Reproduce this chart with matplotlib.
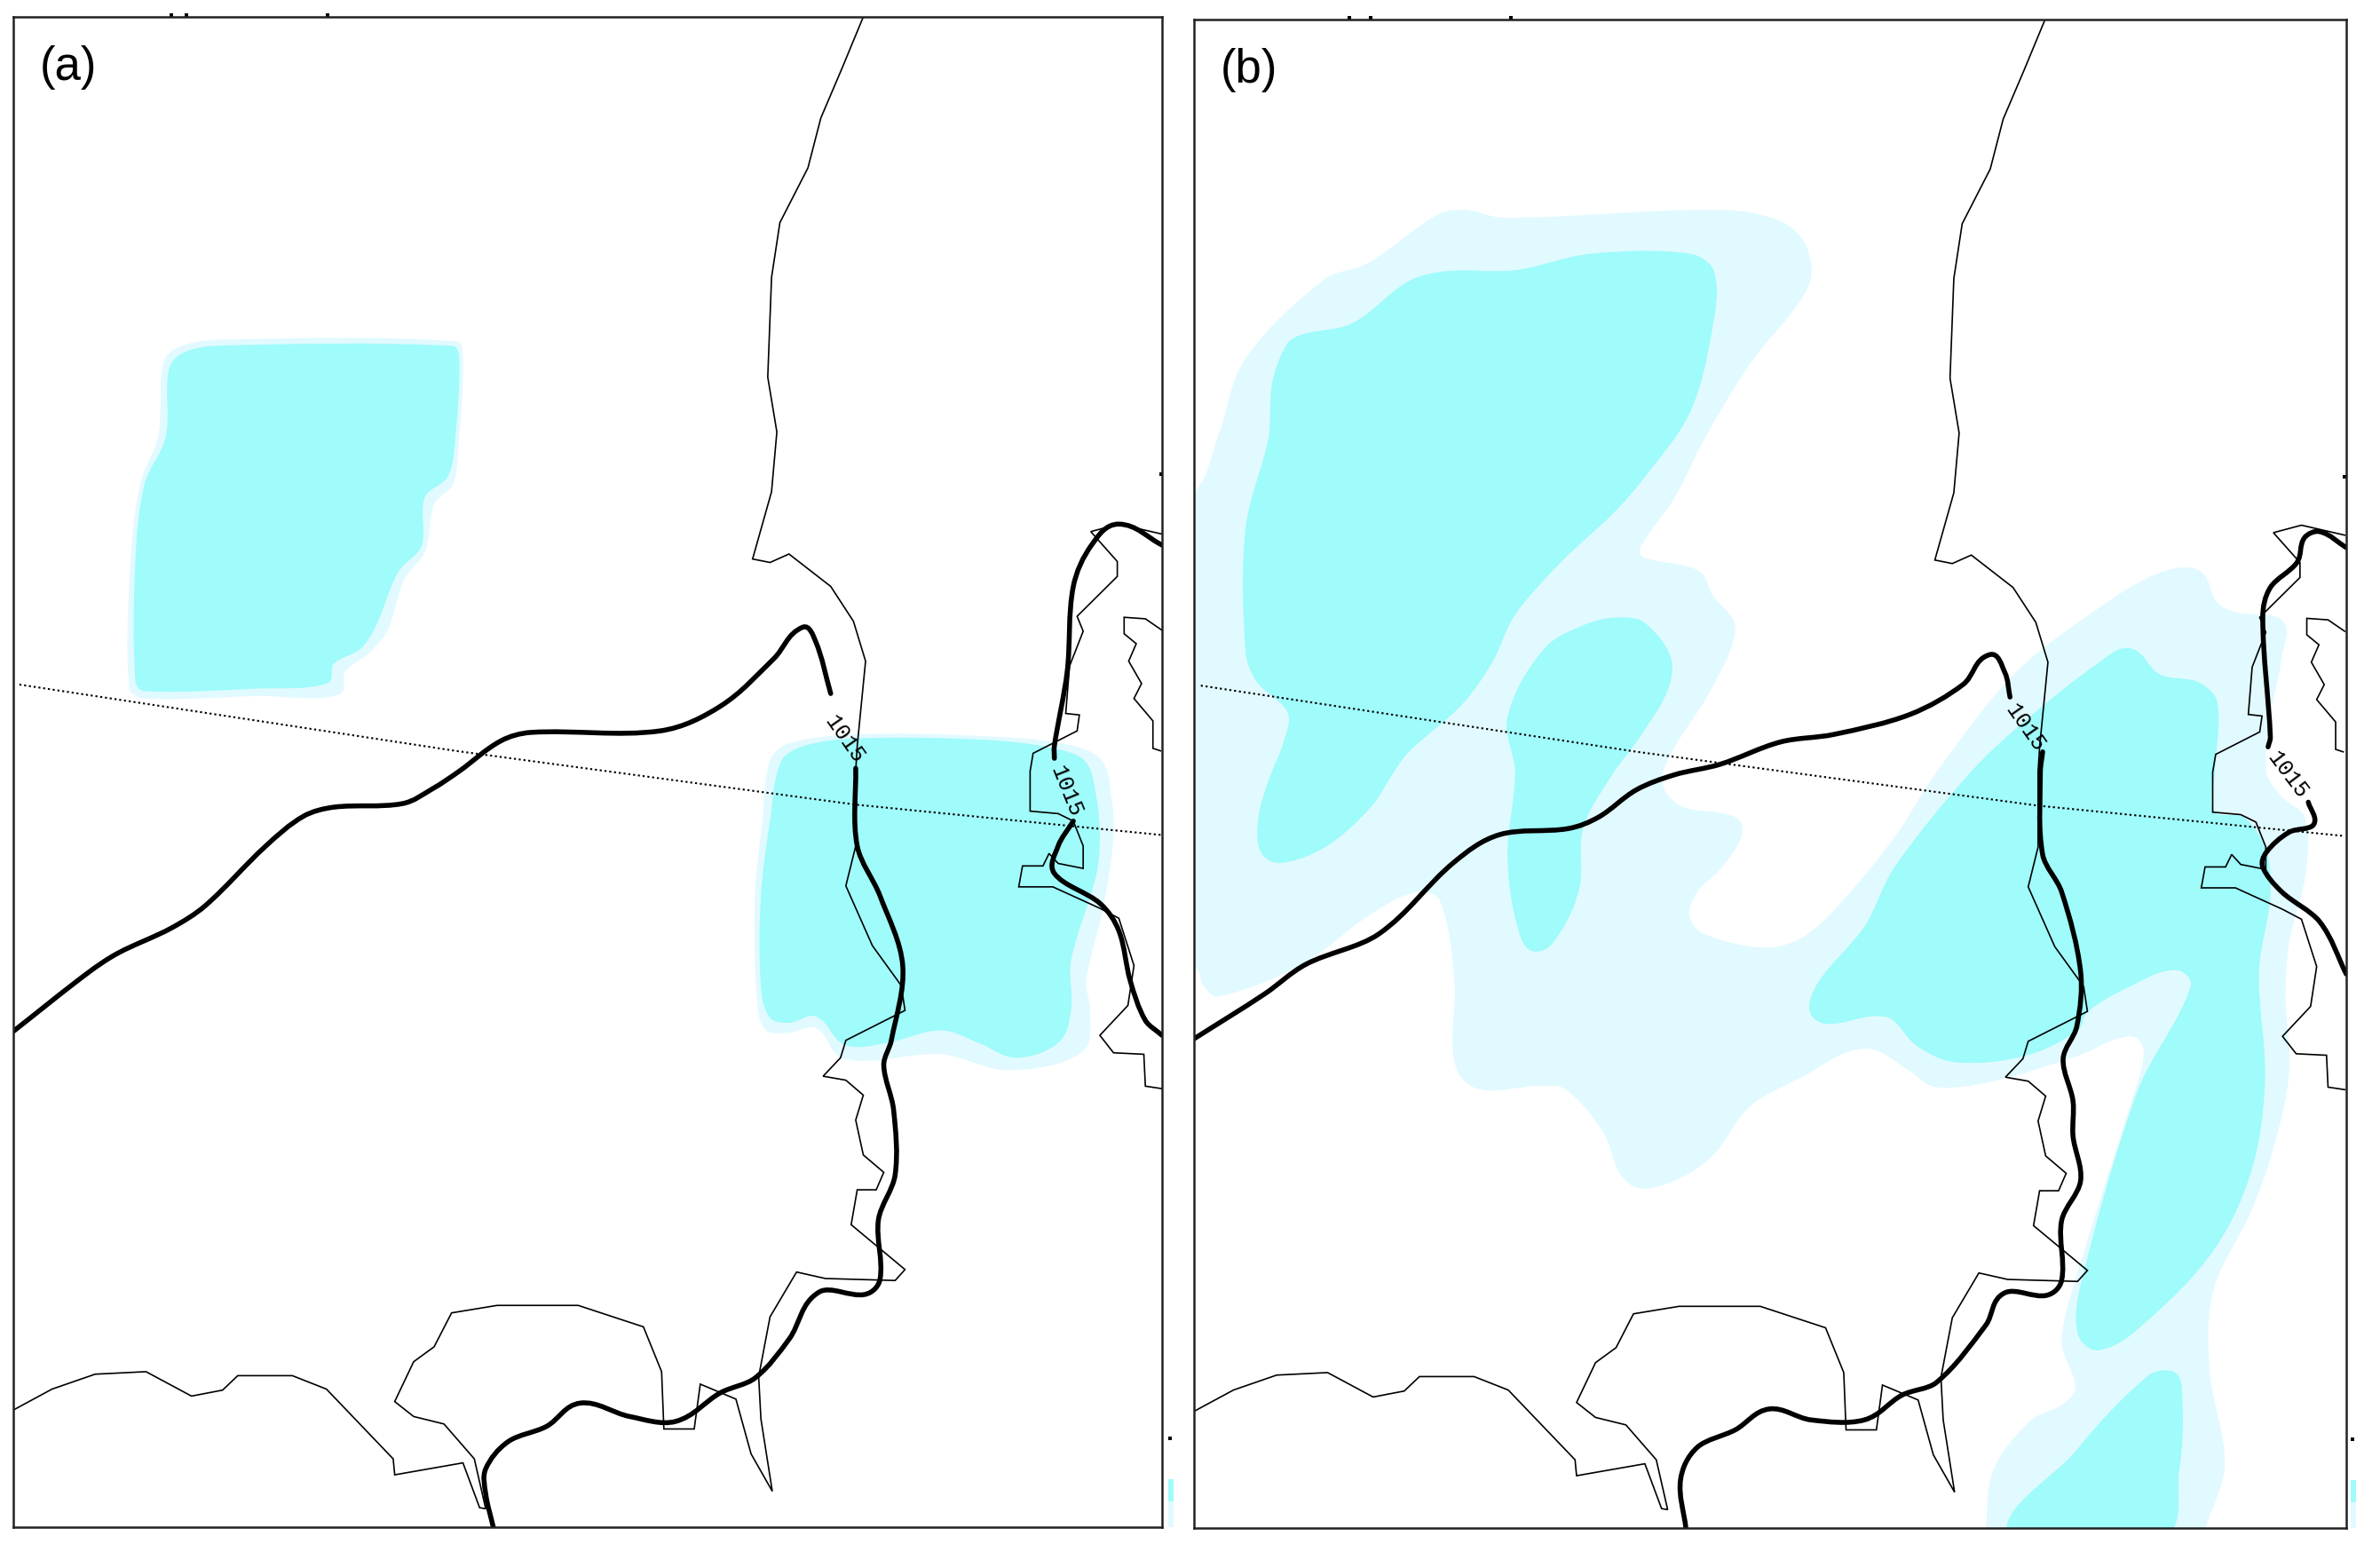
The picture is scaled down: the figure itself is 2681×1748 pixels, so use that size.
import numpy as np
import matplotlib
matplotlib.use('Agg')
import matplotlib.pyplot as plt
from matplotlib.path import Path
from matplotlib.patches import PathPatch

DARK = '#A0FBFB'
LIGHT = '#E1FAFF'

# map outlines (map units, y runs downward)
coast = np.array([(1138,37),(1110,140),(1082,240),(1065,340),(1028,450),(1017,560),(1012,760),(1024,870),(1017,990),(992,1125),
    (1015,1132),(1040,1115),(1095,1180),(1125,1250),(1141,1330),(1130,1500),(1128,1551),(1128,1701),(1115,1781),
    (1150,1901),(1188,1981),(1193,2031),(1115,2091),(1108,2126),(1085,2163),(1115,2171),(1138,2201),(1128,2251),
    (1138,2321),(1165,2356),(1155,2391),(1130,2391),(1122,2461),(1193,2551),(1180,2573),(1088,2569),(1050,2556),
    (1015,2646),(1000,2766),(1003,2851),(1018,2996),(990,2921),(970,2811),(923,2781),(915,2871),(875,2871),
    (872,2756),(848,2666),(762,2623),(655,2623),(595,2638),(572,2706),(545,2736),(520,2816),(545,2846),(585,2861),
    (625,2931),(640,3031),(632,3029),(610,2939),(520,2963),(518,2931),(430,2791),(385,2764),(313,2764),(293,2793),
    (252,2805),(192,2756),(125,2761),(68,2791),(17,2833)])
island = np.array([(1532,1075),(1475,1055),(1438,1070),(1473,1130),(1473,1160),(1420,1240),(1428,1270),(1410,1340),
    (1405,1435),(1423,1438),(1420,1470),(1362,1515),(1358,1551),(1358,1631),(1395,1636),(1415,1651),(1428,1701),
    (1428,1746),(1395,1736),(1383,1716),(1375,1741),(1348,1741),(1343,1783),(1388,1783),(1450,1826),(1475,1846),
    (1495,1941),(1487,2021),(1450,2081),(1468,2116),(1508,2119),(1510,2183),(1532,2188)])
inland = np.array([(1532,1268),(1510,1245),(1482,1242),(1482,1275),(1498,1295),(1488,1330),(1505,1375),(1495,1405),
    (1520,1450),(1520,1505),(1530,1510)])
parallel = np.array([(25,1377),(600,1510),(1128,1618),(1532,1679)])

# panel (a) shading
a_blob1_light = np.array([(285,685),(600,688),(610,720),(605,880),(597,975),(572,1015),(560,1110),(533,1165),(510,1270),
    (485,1315),(455,1350),(445,1398),(340,1400),(190,1405),(170,1385),(172,1120),(185,970),(208,880),(215,730),(235,700)])
a_blob1_dark = np.array([(285,697),(595,697),(605,720),(600,880),(590,960),(560,1000),(555,1100),(525,1150),(495,1260),
    (475,1305),(440,1335),(430,1375),(340,1385),(190,1390),(178,1370),(178,1130),(190,975),(218,880),(222,745),(240,712)])
a_blob2_light = np.array([(1015,1530),(1040,1495),(1130,1477),(1290,1480),(1400,1495),(1450,1525),(1465,1600),(1468,1680),
    (1455,1821),(1432,1971),(1437,2031),(1425,2116),(1330,2151),(1240,2119),(1115,2129),(1075,2066),(1040,2076),
    (1010,2071),(998,2011),(995,1801),(1005,1651)])
a_blob2_dark = np.array([(1030,1530),(1060,1500),(1130,1485),(1300,1488),(1390,1505),(1430,1530),(1445,1600),(1450,1680),
    (1445,1761),(1412,1931),(1412,2031),(1395,2096),(1340,2126),(1290,2096),(1240,2071),(1170,2096),(1115,2101),
    (1075,2043),(1040,2056),(1015,2046),(1003,1981),(1003,1801),(1015,1651)])

# panel (a) 1015 isobar pieces
a_iso = [
    np.array([(17,2073),(115,1956),(155,1916),(225,1866),(270,1821),(350,1701),(400,1641),(440,1623),(530,1616),(570,1586),
        (605,1551),(660,1490),(700,1473),(870,1470),(950,1420),(1020,1325),(1058,1262),(1075,1290),(1095,1395)]),
    np.array([(1128,1545),(1130,1701),(1160,1801),(1190,1941),(1175,2091),(1165,2141),(1178,2231),(1180,2361),(1158,2451),
        (1160,2571),(1140,2601),(1080,2596),(1040,2691),(995,2769),(950,2798),(890,2856),(830,2846),(765,2819),(720,2866),
        (670,2896),(640,2951),(640,3001),(650,3068)]),
    np.array([(1532,1097),(1475,1055),(1440,1095),(1415,1180),(1407,1350),(1390,1500),(1390,1525)]),
    np.array([(1415,1651),(1395,1701),(1390,1756),(1450,1816),(1475,1871),(1490,1971),(1510,2051),(1532,2081)]),
]

# panel (b) shading
b_light = np.array([(-30,990),(7,990),(40,870),(75,720),(180,560),(235,530),(330,430),(365,422),(415,438),(700,422),(780,445),
    (815,500),(815,580),(740,730),(680,880),(640,1000),(595,1100),(600,1120),(670,1145),(690,1195),(720,1260),(690,1380),
    (625,1551),(645,1616),(720,1641),(728,1681),(700,1746),(670,1791),(660,1841),(680,1876),(760,1903),(810,1881),
    (860,1811),(930,1681),(985,1551),(1090,1350),(1200,1220),(1280,1150),(1330,1145),(1355,1210),(1380,1230),(1440,1245),
    (1440,1320),(1425,1440),(1420,1551),(1440,1600),(1470,1640),(1472,1750),(1450,1891),(1445,2001),(1450,2151),(1430,2301),
    (1400,2431),(1350,2591),(1345,2751),(1365,2941),(1340,3068),(1335,3110),(1045,3110),(1050,3068),(1060,2951),(1110,2851),
    (1150,2821),(1168,2786),(1150,2691),(1180,2511),(1240,2221),(1258,2111),(1240,2081),(1170,2121),(1060,2171),(985,2183),
    (950,2151),(890,2106),(810,2161),(740,2221),(690,2321),(640,2371),(595,2386),(570,2361),(545,2271),(495,2186),(460,2181),
    (380,2186),(350,2131),(350,1971),(330,1806),(300,1791),(235,1841),(150,1936),(40,2001),(20,1981),(7,1941),(-30,1941)])
b_dark1 = np.array([(340,545),(430,543),(530,510),(660,510),(692,545),(690,660),(660,830),(600,960),(560,1030),(490,1130),
    (430,1235),(400,1330),(360,1415),(290,1510),(270,1551),(240,1621),(180,1701),(120,1733),(95,1711),(92,1641),(105,1568),
    (125,1490),(130,1430),(90,1370),(75,1310),(75,1060),(105,880),(110,770),(130,690),(150,672),(215,650),(290,565)])
b_dark2 = np.array([(570,1240),(600,1250),(635,1320),(630,1390),(590,1490),(560,1551),(520,1661),(515,1781),(490,1871),
    (458,1911),(435,1871),(420,1721),(430,1551),(420,1440),(470,1300),(530,1250)])
b_dark3 = np.array([(1240,1302),(1280,1355),(1330,1370),(1355,1410),(1352,1551),(1352,1631),(1390,1641),(1420,1711),
    (1425,1801),(1410,1951),(1418,2171),(1400,2351),(1350,2511),(1260,2656),(1200,2711),(1172,2681),(1175,2581),(1250,2191),
    (1320,1981),(1300,1948),(1240,1981),(1185,2031),(1170,2071),(1100,2121),(1010,2133),(960,2101),(925,2046),(900,2041),
    (840,2056),(818,2031),(830,1971),(890,1861),(930,1741),(1030,1551),(1100,1450),(1200,1330)])
b_dark4 = np.array([(1295,2753),(1308,2781),(1305,2951),(1275,3100),(1085,3100),(1170,2911),(1265,2761)])

# panel (b) 1015 isobar pieces
b_iso = [
    np.array([(7,2086),(100,1996),(155,1936),(250,1876),(350,1731),(410,1676),(500,1664),(540,1641),(590,1586),(640,1556),
        (700,1535),(780,1490),(850,1475),(950,1435),(1020,1375),(1055,1315),(1075,1350),(1082,1400)]),
    np.array([(1125,1510),(1122,1551),(1125,1716),(1150,1791),(1175,1951),(1170,2061),(1152,2126),(1165,2211),(1165,2281),
        (1175,2371),(1150,2451),(1150,2571),(1130,2601),(1075,2596),(1050,2661),(985,2776),(940,2801),(890,2851),(820,2851),
        (765,2829),(720,2871),(670,2906),(648,2971),(655,3068)]),
    np.array([(1525,1100),(1490,1068),(1470,1080),(1460,1130),(1425,1180),(1415,1240),(1425,1480),(1422,1500)]),
    np.array([(1475,1611),(1482,1656),(1450,1671),(1420,1711),(1415,1741),(1440,1791),(1490,1851),(1525,1956)]),
]

# isobar labels: x, y, rotation
a_labels = [(1113, 1485, -55), (1406, 1590, -68)]
b_labels = [(1102, 1460, -55), (1448, 1555, -53)]

# stray marks left round the frame
a_specks = np.array([(225,34),(245,34),(432,34),(1531,955),(1542,2889)])
b_specks = np.array([(212,37),(240,37),(425,37),(1523,957),(1533,2889)])


def smooth_path(pts, closed=False):
    # bezier through the read points, handles cut to the length of each segment so long sides don't overshoot
    p = np.vstack([pts[-1], pts, pts[:2]]) if closed else np.vstack([pts[0], pts, pts[-1]])
    verts = [p[1]]
    codes = [Path.MOVETO]
    for i in range(1, len(p) - 2):
        seg = np.linalg.norm(p[i+1] - p[i])
        t0 = p[i+1] - p[i-1]
        t1 = p[i+2] - p[i]
        t0 = t0 / max(np.linalg.norm(t0), 1e-6)
        t1 = t1 / max(np.linalg.norm(t1), 1e-6)
        verts += [p[i] + t0 * seg / 3, p[i+1] - t1 * seg / 3, p[i+1]]
        codes += [Path.CURVE4] * 3
    return Path(np.array(verts), codes)


def fill(ax, pts, color):
    ax.add_patch(PathPatch(smooth_path(pts, closed=True), fc=color, ec='none', zorder=1))


def draw_map(ax, dx):
    for line in [coast, island, inland]:
        ax.plot(line[:, 0] - dx, line[:, 1], color='black', lw=1.2, zorder=3, solid_joinstyle='miter')
    ax.plot(parallel[:, 0] - dx, parallel[:, 1], color='black', lw=1.5, ls=(0, (1.1, 1.5)), zorder=3)


def draw_isobars(ax, pieces, labels):
    for piece in pieces:
        ax.add_patch(PathPatch(smooth_path(piece), fc='none', ec='black', lw=4.0, capstyle='round', zorder=4))
    for x, y, rot in labels:
        ax.text(x, y, '1015', rotation=rot, rotation_mode='anchor', ha='center', va='center',
                family='Liberation Mono', fontsize=18, color='black', zorder=5)


plt.rcParams['font.family'] = ['Liberation Sans', 'DejaVu Sans']
W, H = 2681, 1749
fig = plt.figure(figsize=(W / 100, H / 100), dpi=100, facecolor='white')
ax_a = fig.add_axes([15 / W, 1 - 1721 / H, 1294 / W, 1701 / H])
ax_b = fig.add_axes([1345 / W, 1 - 1722 / H, 1298 / W, 1699 / H])

ax_a.set_xlim(17, 1532)
ax_a.set_ylim(3068, 37)
ax_b.set_xlim(7, 1525)
ax_b.set_ylim(3068, 40)

fill(ax_a, a_blob1_light, LIGHT)
fill(ax_a, a_blob1_dark, DARK)
fill(ax_a, a_blob2_light, LIGHT)
fill(ax_a, a_blob2_dark, DARK)
draw_map(ax_a, 0)
draw_isobars(ax_a, a_iso, a_labels)

fill(ax_b, b_light, LIGHT)
for blob in [b_dark1, b_dark2, b_dark3, b_dark4]:
    fill(ax_b, blob, DARK)
draw_map(ax_b, 9)
draw_isobars(ax_b, b_iso, b_labels)

ax_a.text(90, 137, '(a)', fontsize=38, ha='center', va='center', zorder=6)
ax_b.text(80, 140, '(b)', fontsize=38, ha='center', va='center', zorder=6)

for ax, specks, sliver in [(ax_a, a_specks, 1540), (ax_b, b_specks, 1531)]:
    ax.scatter(specks[:, 0], specks[:, 1], s=8, color='black', marker='s', lw=0, clip_on=False, zorder=6)
    # bits of the colour key cut off at the frame
    ax.fill_between([sliver, sliver + 7], 2971, 3016, color=DARK, lw=0, clip_on=False)
    ax.fill_between([sliver, sliver + 7], 3016, 3068, color=LIGHT, lw=0, clip_on=False)
    ax.set_xticks([])
    ax.set_yticks([])
    for s in ax.spines.values():
        s.set_linewidth(1.8)
        s.set_color('#222222')
        s.set_zorder(7)

fig.savefig('out.png', dpi=100, facecolor='white')
